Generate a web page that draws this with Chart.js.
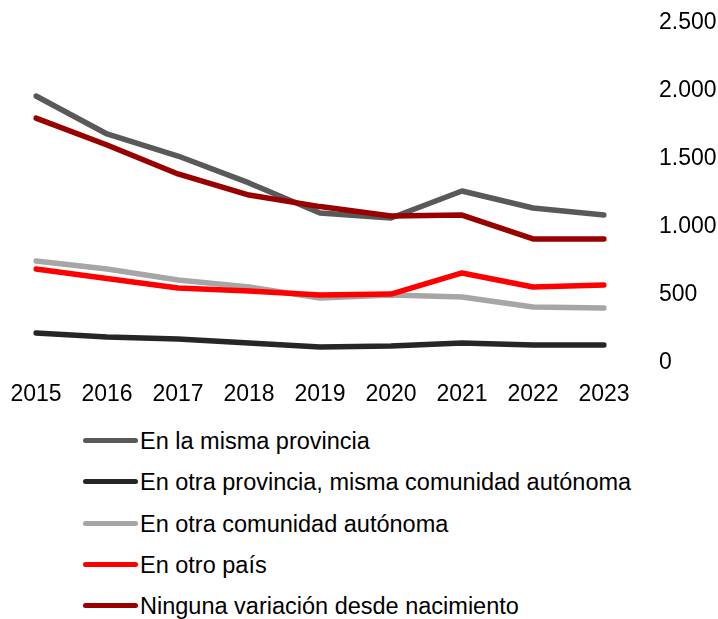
<!DOCTYPE html>
<html>
<head>
<meta charset="utf-8">
<script src="https://cdn.jsdelivr.net/npm/chart.js@4"></script>
<style>
    body { margin: 0; background: #ffffff; }
    #wrap { position: relative; width: 718px; height: 619px; }
    #chartBox { position: absolute; left: 0; top: 0; width: 718px; height: 410px; }
    #legend { position: absolute; left: 0; top: 0; }
    .item { position: absolute; left: 83px; height: 30px; white-space: nowrap;
            font-family: 'Liberation Sans', Arial, sans-serif; font-size: 23.5px; color: #000; }
    .swatch { position: absolute; left: 0; top: 12px; width: 55px; height: 5px; border-radius: 3px; }
    .label { position: absolute; left: 57px; top: 1px; line-height: 28px; }
</style>
</head>
<body>
<div id="wrap">
    <div id="chartBox"><canvas id="lineChart" width="718" height="410"></canvas></div>
    <div id="legend"></div>
</div>
<script>
// Data
const years = ['2015', '2016', '2017', '2018', '2019', '2020', '2021', '2022', '2023'];
const seriesNames = [
    'En la misma provincia',
    'En otra provincia, misma comunidad autónoma',
    'En otra comunidad autónoma',
    'En otro país',
    'Ninguna variación desde nacimiento'
];
const mismaProvincia = [1963, 1684, 1522, 1324, 1103, 1066, 1265, 1140, 1088];
const otraProvincia = [221, 191, 176, 147, 118, 125, 147, 132, 132];
const otraComunidad = [750, 691, 610, 559, 478, 500, 485, 412, 404];
const otroPais = [691, 622, 551, 529, 500, 507, 662, 559, 574];
const ningunaVariacion = [1801, 1603, 1390, 1235, 1150, 1081, 1088, 912, 912];
const yTicks = [0, 500, 1000, 1500, 2000, 2500];

const seriesValues = [mismaProvincia, otraProvincia, otraComunidad, otroPais, ningunaVariacion];
const seriesColors = ['#595959', '#262626', '#a6a6a6', '#ff0000', '#990000'];

const fontFamily = "'Liberation Sans', Arial, sans-serif";

// Spanish thousands separator
function formatEs(v) {
    return v.toString().replace(/\B(?=(\d{3})+(?!\d))/g, '.');
}

document.addEventListener('DOMContentLoaded', function () {
    const ctx = document.getElementById('lineChart');

    const datasets = seriesNames.map(function (name, i) {
        return {
            label: name,
            data: seriesValues[i],
            borderColor: seriesColors[i],
            backgroundColor: seriesColors[i],
            borderWidth: 5.5,
            borderCapStyle: 'round',
            borderJoinStyle: 'round',
            pointRadius: 0,
            tension: 0,
            fill: false,
            order: seriesNames.length - 1 - i
        };
    });

    new Chart(ctx, {
        type: 'line',
        data: { labels: years, datasets: datasets },
        options: {
            responsive: false,
            animation: false,
            layout: { padding: { top: 23, left: 36, right: 0, bottom: 0 } },
            plugins: {
                legend: { display: false },
                tooltip: { enabled: false }
            },
            scales: {
                x: {
                    offset: false,
                    // invisible tick marks used as spacing (tick padding would also pad the chart area)
                    grid: { display: true, drawOnChartArea: false, drawTicks: true, tickLength: 18, color: 'rgba(0,0,0,0)' },
                    border: { display: false },
                    ticks: {
                        color: '#000000',
                        padding: 0,
                        maxRotation: 0,
                        autoSkip: false,
                        font: { family: fontFamily, size: 23 }
                    },
                    afterFit: function (scale) { scale.height = 47; }
                },
                y: {
                    position: 'right',
                    min: yTicks[0],
                    max: yTicks[yTicks.length - 1],
                    grid: { display: true, drawOnChartArea: false, drawTicks: true, tickLength: 55, color: 'rgba(0,0,0,0)' },
                    border: { display: false },
                    afterBuildTicks: function (scale) {
                        scale.ticks = yTicks.map(function (v) { return { value: v }; });
                    },
                    ticks: {
                        color: '#000000',
                        padding: 0,
                        callback: function (v) { return formatEs(v); },
                        font: { family: fontFamily, size: 23 }
                    },
                    afterFit: function (scale) { scale.width = 114; }
                }
            }
        }
    });

    // Vertical legend below the chart
    const legend = document.getElementById('legend');
    seriesNames.forEach(function (name, i) {
        const item = document.createElement('div');
        item.className = 'item';
        item.style.top = (426 + i * 41.3) + 'px';
        const sw = document.createElement('span');
        sw.className = 'swatch';
        sw.style.background = seriesColors[i];
        const lb = document.createElement('span');
        lb.className = 'label';
        lb.textContent = name;
        item.appendChild(sw);
        item.appendChild(lb);
        legend.appendChild(item);
    });
});
</script>
</body>
</html>
